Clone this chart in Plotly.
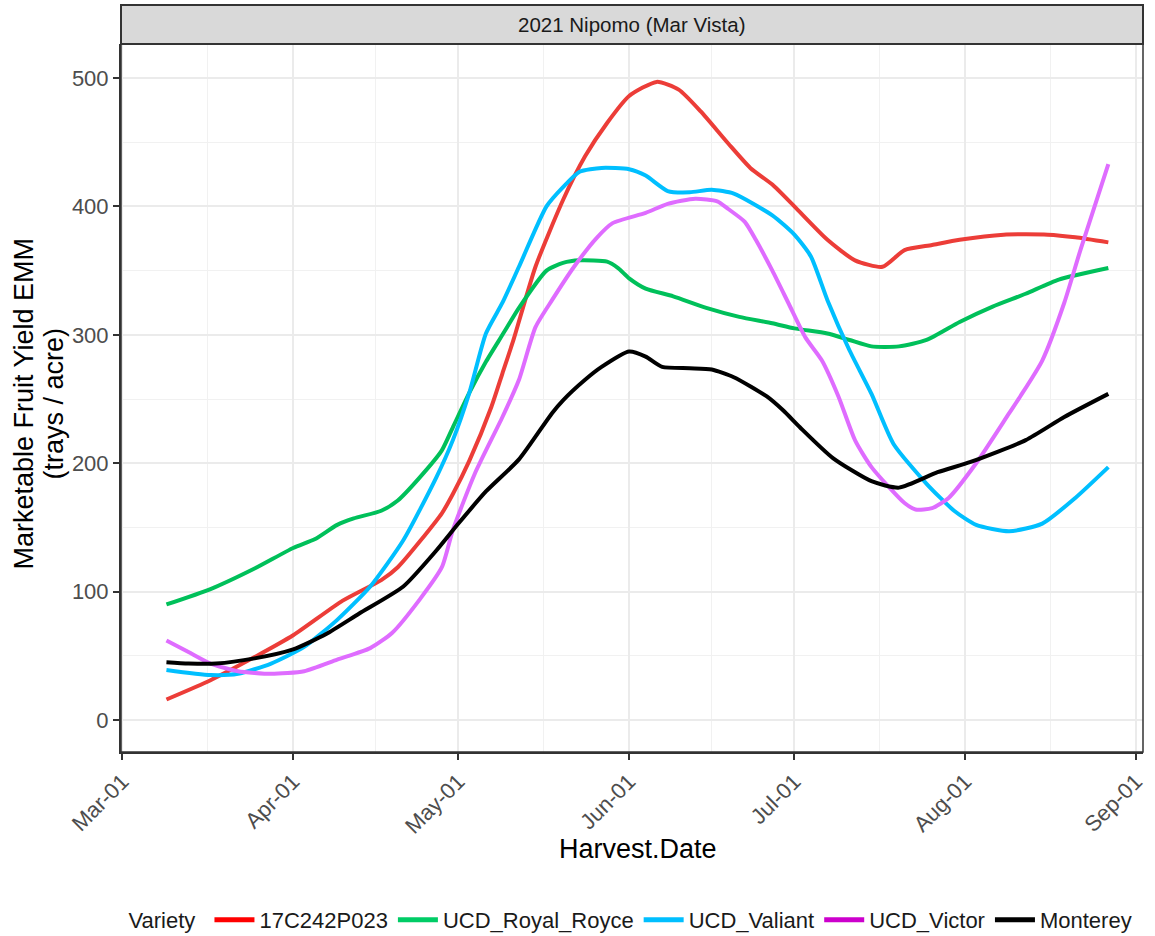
import plotly.graph_objects as go

# ---------------- data ----------------
varieties = ["17C242P023", "UCD_Royal_Royce", "UCD_Valiant", "UCD_Victor", "Monterey"]

red_dates = ["2021-03-09", "2021-03-17", "2021-03-25", "2021-04-01", "2021-04-10", "2021-04-17",
             "2021-04-20", "2021-04-28", "2021-04-30", "2021-05-03", "2021-05-07", "2021-05-09",
             "2021-05-11", "2021-05-15", "2021-05-20", "2021-05-24", "2021-05-28", "2021-06-01",
             "2021-06-06", "2021-06-10", "2021-06-14", "2021-06-19", "2021-06-23", "2021-06-27",
             "2021-07-01", "2021-07-07", "2021-07-12", "2021-07-17", "2021-07-21", "2021-07-26",
             "2021-07-31", "2021-08-08", "2021-08-16", "2021-08-21", "2021-08-27"]
red_vals = [16, 31, 49, 66, 93, 109,
            119, 161, 176, 202, 244, 270,
            296, 353, 405, 439, 465, 486,
            497, 491, 474, 449, 430, 417,
            400, 374, 358, 353, 366, 370,
            374, 378, 378, 376, 372]

green_dates = ["2021-03-09", "2021-03-17", "2021-03-25", "2021-04-01", "2021-04-05", "2021-04-09",
               "2021-04-12", "2021-04-17", "2021-04-20", "2021-04-24", "2021-04-28", "2021-04-30",
               "2021-05-03", "2021-05-06", "2021-05-09", "2021-05-12", "2021-05-17", "2021-05-20",
               "2021-05-23", "2021-05-28", "2021-05-30", "2021-06-01", "2021-06-04", "2021-06-09",
               "2021-06-15", "2021-06-21", "2021-06-27", "2021-07-01", "2021-07-07", "2021-07-11",
               "2021-07-15", "2021-07-20", "2021-07-25", "2021-07-31", "2021-08-06", "2021-08-12",
               "2021-08-18", "2021-08-27"]
green_vals = [90, 102, 118, 134, 141, 152,
              157, 163, 171, 189, 210, 228,
              255, 279, 300, 321, 350, 356,
              358, 357, 352, 344, 336, 330,
              321, 314, 309, 305, 301, 296,
              291, 291, 296, 310, 322, 332,
              343, 352]

blue_dates = ["2021-03-09", "2021-03-17", "2021-03-22", "2021-03-28", "2021-04-03", "2021-04-09",
              "2021-04-15", "2021-04-21", "2021-04-27", "2021-04-30", "2021-05-03", "2021-05-06",
              "2021-05-09", "2021-05-12", "2021-05-17", "2021-05-20", "2021-05-23", "2021-05-27",
              "2021-06-01", "2021-06-04", "2021-06-08", "2021-06-12", "2021-06-16", "2021-06-20",
              "2021-06-27", "2021-07-01", "2021-07-04", "2021-07-07", "2021-07-11", "2021-07-15",
              "2021-07-19", "2021-07-25", "2021-07-30", "2021-08-03", "2021-08-09", "2021-08-15",
              "2021-08-21", "2021-08-27"]
blue_vals = [39, 35, 36, 44, 57, 78,
             104, 140, 189, 218, 255, 301,
             325, 353, 400, 415, 427, 430,
             429, 424, 412, 411, 413, 410,
             393, 378, 361, 327, 288, 254,
             215, 184, 163, 152, 147, 153,
             173, 197]

victor_dates = ["2021-03-09", "2021-03-13", "2021-03-17", "2021-03-22", "2021-03-28", "2021-04-03",
                "2021-04-09", "2021-04-15", "2021-04-19", "2021-04-24", "2021-04-28", "2021-04-30",
                "2021-05-04", "2021-05-09", "2021-05-12", "2021-05-15", "2021-05-18", "2021-05-22",
                "2021-05-26", "2021-05-29", "2021-06-04", "2021-06-08", "2021-06-13", "2021-06-17",
                "2021-06-19", "2021-06-22", "2021-06-24", "2021-06-27", "2021-06-30", "2021-07-03",
                "2021-07-06", "2021-07-09", "2021-07-12", "2021-07-15", "2021-07-21", "2021-07-23",
                "2021-07-26", "2021-07-29", "2021-08-03", "2021-08-09", "2021-08-11", "2021-08-15",
                "2021-08-19", "2021-08-22", "2021-08-27"]
victor_vals = [62, 53, 44, 38, 36, 38,
               47, 56, 68, 94, 119, 148,
               192, 236, 265, 306, 327, 353,
               375, 387, 395, 402, 406, 404,
               398, 388, 374, 350, 324, 298,
               280, 252, 218, 197, 169, 164,
               165, 173, 200, 239, 252, 280,
               325, 367, 433]

black_dates = ["2021-03-09", "2021-03-13", "2021-03-18", "2021-03-25", "2021-04-01", "2021-04-07",
               "2021-04-13", "2021-04-21", "2021-04-27", "2021-05-01", "2021-05-06", "2021-05-12",
               "2021-05-18", "2021-05-20", "2021-05-24", "2021-05-27", "2021-06-01", "2021-06-04",
               "2021-06-07", "2021-06-12", "2021-06-16", "2021-06-20", "2021-06-26", "2021-06-29",
               "2021-07-02", "2021-07-08", "2021-07-15", "2021-07-20", "2021-07-27", "2021-08-02",
               "2021-08-12", "2021-08-19", "2021-08-27"]
black_vals = [45, 44, 44, 48, 55, 67,
              83, 104, 132, 153, 178, 203,
              239, 249, 265, 275, 287, 283,
              275, 274, 273, 267, 252, 241,
              228, 204, 186, 181, 193, 201,
              218, 236, 254]

series_dates = [red_dates, green_dates, blue_dates, victor_dates, black_dates]
series_vals = [red_vals, green_vals, blue_vals, victor_vals, black_vals]

month_ticks = ["2021-03-01", "2021-04-01", "2021-05-01", "2021-06-01",
               "2021-07-01", "2021-08-01", "2021-09-01"]
minor_ticks = ["2021-03-16 12:00", "2021-04-16", "2021-05-16 12:00",
               "2021-06-16", "2021-07-16 12:00", "2021-08-16 12:00"]
y_ticks = [0, 100, 200, 300, 400, 500]
y_minor = [50, 150, 250, 350, 450]

# ---------------- styling ----------------
line_colors = ["#EC3D38", "#00C05A", "#00BFFF", "#DF6CFF", "#000000"]
legend_colors = ["#FF0000", "#00CC66", "#00BFFF", "#CC00CC", "#000000"]
FONT = "Liberation Sans, Arial, sans-serif"
W, H = 1155, 936
L, R, T, B = 121, 12, 44, 184
PW, PH = W - L - R, H - T - B

fig = go.Figure()
for name, xs, ys, col in zip(varieties, series_dates, series_vals, line_colors):
    fig.add_trace(go.Scatter(x=xs, y=ys, mode="lines", name=name,
                             line=dict(color=col, width=4, shape="spline", smoothing=0.6),
                             showlegend=False, hoverinfo="skip"))
for name, col in zip(varieties, legend_colors):
    fig.add_trace(go.Scatter(x=[None], y=[None], mode="lines", name=name,
                             line=dict(color=col, width=5), showlegend=True))

fig.update_layout(
    width=W, height=H,
    margin=dict(l=L, r=R, t=T, b=B, autoexpand=False),
    paper_bgcolor="white", plot_bgcolor="white",
    font=dict(family=FONT, color="#1A1A1A"),
    showlegend=True,
    legend=dict(orientation="h", x=0.5, xanchor="center",
                yref="container", y=(H - 920) / H, yanchor="middle",
                font=dict(size=22, color="#1A1A1A", family=FONT),
                title=dict(text="Variety ", side="left", font=dict(size=22, color="#1A1A1A")),
                itemwidth=40, tracegroupgap=0),
)

fig.update_xaxes(
    type="date", range=["2021-02-28 18:00", "2021-09-02 07:00"], automargin=False,
    tickmode="array", tickvals=month_ticks, tickformat="%b-%d", tickangle=-45,
    tickfont=dict(size=22, color="#4D4D4D", family=FONT),
    ticks="outside", ticklen=6, tickwidth=2, tickcolor="#333333",
    showline=True, linewidth=2, linecolor="#333333",
    showgrid=True, gridcolor="#EBEBEB", gridwidth=2,
    minor=dict(tickmode="array", tickvals=minor_ticks, showgrid=True,
               gridcolor="#F1F1F1", gridwidth=1, ticks=""),
    zeroline=False,
)
fig.update_yaxes(
    range=[-24.9, 526.5], automargin=False,
    tickmode="array", tickvals=y_ticks,
    tickfont=dict(size=22, color="#4D4D4D", family=FONT),
    ticks="outside", ticklen=6, tickwidth=2, tickcolor="#333333",
    showline=True, linewidth=2, linecolor="#333333",
    showgrid=True, gridcolor="#EBEBEB", gridwidth=2,
    minor=dict(tickmode="array", tickvals=y_minor, showgrid=True,
               gridcolor="#F1F1F1", gridwidth=1, ticks=""),
    zeroline=False,
)

# panel border and facet strip
fig.add_shape(type="rect", xref="paper", yref="paper", x0=0, x1=1, y0=0, y1=1,
              line=dict(color="#333333", width=1.5), fillcolor="rgba(0,0,0,0)", layer="above")
fig.add_shape(type="rect", xref="paper", yref="paper", x0=0, x1=1, y0=1, y1=1 + 39 / PH,
              line=dict(color="#333333", width=2), fillcolor="#D9D9D9", layer="above")
fig.add_annotation(text="2021 Nipomo (Mar Vista)", xref="paper", yref="paper",
                   x=0.5, y=1 + 19.5 / PH, xanchor="center", yanchor="middle",
                   showarrow=False, font=dict(size=20.5, color="#1A1A1A", family=FONT))

# axis titles
fig.add_annotation(text="Harvest.Date", xref="paper", yref="paper",
                   x=(637.5 - L) / PW, y=(H - B - 849) / PH, xanchor="center", yanchor="middle",
                   showarrow=False, font=dict(size=27, color="#000000", family=FONT))
fig.add_annotation(text="Marketable Fruit Yield EMM", xref="paper", yref="paper",
                   x=(24 - L) / PW, y=(H - B - 403.5) / PH, xanchor="center", yanchor="middle",
                   textangle=-90, showarrow=False, font=dict(size=27, color="#000000", family=FONT))
fig.add_annotation(text="(trays / acre)", xref="paper", yref="paper",
                   x=(54 - L) / PW, y=(H - B - 403.5) / PH, xanchor="center", yanchor="middle",
                   textangle=-90, showarrow=False, font=dict(size=27, color="#000000", family=FONT))

fig.write_html("out.html")
